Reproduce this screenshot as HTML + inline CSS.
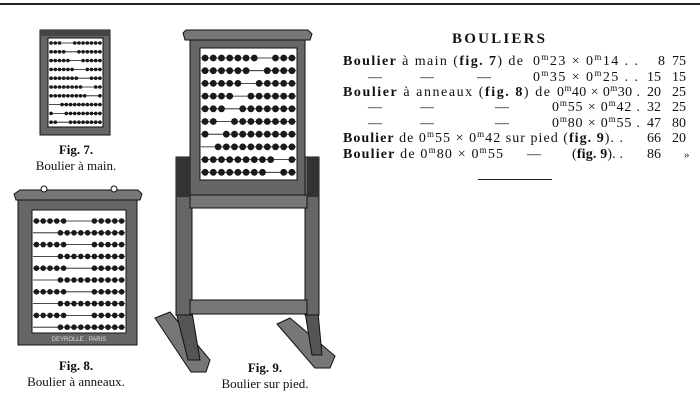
<!DOCTYPE html>
<html><head><meta charset="utf-8"><style>
html,body{margin:0;padding:0;background:#fff;}
body{width:700px;height:403px;overflow:hidden;position:relative;font-family:"Liberation Serif",serif;color:#111;}
.cap{position:absolute;text-align:center;font-size:13px;line-height:16px;}
svg text{font-family:"Liberation Serif",serif;font-size:14px;fill:#111;}
</style></head><body>
<svg id="s" width="700" height="403" style="position:absolute;left:0;top:0">
<rect x="0" y="3" width="700" height="2" fill="#222"/>
<!-- Fig 7 -->
<rect x="40" y="30" width="70" height="105" fill="#666" stroke="#111"/>
<rect x="40" y="30" width="70" height="6" fill="#444"/>
<rect x="48" y="38" width="55" height="89" fill="#fff" stroke="#111"/>
<!-- Fig 8 -->
<polygon points="14,194 20,190 138,190 142,194 140,200 16,200" fill="#777" stroke="#111"/>
<circle cx="44" cy="189" r="3" fill="#fff" stroke="#111"/><circle cx="114" cy="189" r="3" fill="#fff" stroke="#111"/>
<rect x="18" y="200" width="119" height="145" fill="#666" stroke="#111"/>
<rect x="32" y="210" width="94" height="123" fill="#fff" stroke="#111"/>
<text x="79" y="341" style="font-size:6px;fill:#ddd;font-family:'Liberation Sans'" text-anchor="middle">DEYROLLE . PARIS</text>
<!-- Fig 9 -->
<polygon points="155,318 170,312 210,360 206,372 191,372" fill="#777" stroke="#111"/>
<polygon points="277,324 290,318 335,356 330,368 315,368" fill="#777" stroke="#111"/>
<polygon points="176,312 192,312 200,360 188,360" fill="#555" stroke="#111"/>
<polygon points="305,312 318,312 322,355 312,355" fill="#555" stroke="#111"/>
<rect x="176" y="157" width="16" height="158" fill="#666" stroke="#111"/>
<rect x="305" y="157" width="14" height="158" fill="#666" stroke="#111"/>
<rect x="190" y="195" width="117" height="13" fill="#777" stroke="#111"/>
<rect x="190" y="300" width="117" height="14" fill="#777" stroke="#111"/>
<rect x="192" y="208" width="113" height="92" fill="#fff" stroke="#111"/>
<rect x="190" y="38" width="115" height="157" fill="#666" stroke="#111"/>
<polygon points="183,33 186,30 308,30 312,34 310,40 185,40" fill="#777" stroke="#111"/>
<rect x="200" y="48" width="97" height="132" fill="#fff" stroke="#111"/>
<rect x="176" y="157" width="14" height="40" fill="#333"/>
<rect x="307" y="157" width="12" height="40" fill="#333"/>

<!-- Text -->
<text x="452" y="43" textLength="93" style="font-size:15px;font-weight:bold">BOULIERS</text>

<text x="343" y="65" textLength="180"><tspan font-weight="bold">Boulier</tspan> à main (<tspan font-weight="bold">fig. 7</tspan>) de</text>
<text x="533" y="65" textLength="105">0<tspan font-size="9" dy="-5">m</tspan><tspan dy="5">23 × 0</tspan><tspan font-size="9" dy="-5">m</tspan><tspan dy="5">14 . .</tspan></text>
<text x="658" y="65">8</text><text x="672" y="65">75</text>

<text x="368" y="81">—</text><text x="420" y="81">—</text><text x="477" y="81">—</text>
<text x="533" y="81" textLength="105">0<tspan font-size="9" dy="-5">m</tspan><tspan dy="5">35 × 0</tspan><tspan font-size="9" dy="-5">m</tspan><tspan dy="5">25 . .</tspan></text>
<text x="647" y="81">15</text><text x="672" y="81">15</text>

<text x="343" y="96" textLength="207"><tspan font-weight="bold">Boulier</tspan> à anneaux (<tspan font-weight="bold">fig. 8</tspan>) de</text>
<text x="557" y="96" textLength="83">0<tspan font-size="9" dy="-5">m</tspan><tspan dy="5">40 × 0</tspan><tspan font-size="9" dy="-5">m</tspan><tspan dy="5">30 .</tspan></text>
<text x="647" y="96">20</text><text x="672" y="96">25</text>

<text x="368" y="111">—</text><text x="420" y="111">—</text><text x="495" y="111">—</text>
<text x="552" y="111" textLength="88">0<tspan font-size="9" dy="-5">m</tspan><tspan dy="5">55 × 0</tspan><tspan font-size="9" dy="-5">m</tspan><tspan dy="5">42 .</tspan></text>
<text x="647" y="111">32</text><text x="672" y="111">25</text>

<text x="368" y="127">—</text><text x="420" y="127">—</text><text x="495" y="127">—</text>
<text x="552" y="127" textLength="88">0<tspan font-size="9" dy="-5">m</tspan><tspan dy="5">80 × 0</tspan><tspan font-size="9" dy="-5">m</tspan><tspan dy="5">55 .</tspan></text>
<text x="647" y="127">47</text><text x="672" y="127">80</text>

<text x="343" y="142" textLength="280"><tspan font-weight="bold">Boulier</tspan> de 0<tspan font-size="9" dy="-5">m</tspan><tspan dy="5">55 × 0</tspan><tspan font-size="9" dy="-5">m</tspan><tspan dy="5">42 sur pied (</tspan><tspan font-weight="bold">fig. 9</tspan>). .</text>
<text x="647" y="142">66</text><text x="672" y="142">20</text>

<text x="343" y="158" textLength="160"><tspan font-weight="bold">Boulier</tspan> de 0<tspan font-size="9" dy="-5">m</tspan><tspan dy="5">80 × 0</tspan><tspan font-size="9" dy="-5">m</tspan><tspan dy="5">55</tspan></text>
<text x="527" y="158">—</text>
<text x="572" y="158" textLength="51">(<tspan font-weight="bold">fig. 9</tspan>). .</text>
<text x="647" y="158">86</text><text x="684" y="158" style="font-size:11px">»</text>

<rect x="478" y="179" width="74" height="1" fill="#222"/>
</svg>
<div class="cap" style="left:26px;top:142px;width:100px;"><b>Fig. 7.</b><br>Boulier à main.</div>
<div class="cap" style="left:6px;top:358px;width:140px;"><b>Fig. 8.</b><br>Boulier à anneaux.</div>
<div class="cap" style="left:200px;top:360px;width:130px;"><b>Fig. 9.</b><br>Boulier sur pied.</div>
<script>
var s=document.getElementById('s');var NS='http://www.w3.org/2000/svg';
function el(n,a){var e=document.createElementNS(NS,n);for(var k in a)e.setAttribute(k,a[k]);s.appendChild(e);}
function ab(x0,x1,y0,dy,rows,r,d,seed){
 for(var i=0;i<rows;i++){var y=y0+i*dy;
  el('line',{x1:x0,y1:y,x2:x1,y2:y,stroke:'#111','stroke-width':0.8});
  var n=10;var a=(seed*(i+3)*7)%10;var gap=(x1-x0)-n*d;
  for(var j=0;j<n;j++){var x=x0+d/2+j*d+(j>=a?gap:0);
   el('circle',{cx:x,cy:y,r:r,fill:'#1a1a1a'});}
 }}
ab(49,102,43,8.8,10,1.8,4.2,3);
ab(33,125,221,11.8,10,2.8,6.8,5);
ab(201,296,58,12.7,10,3.4,8.2,7);
</script>
</body></html>
